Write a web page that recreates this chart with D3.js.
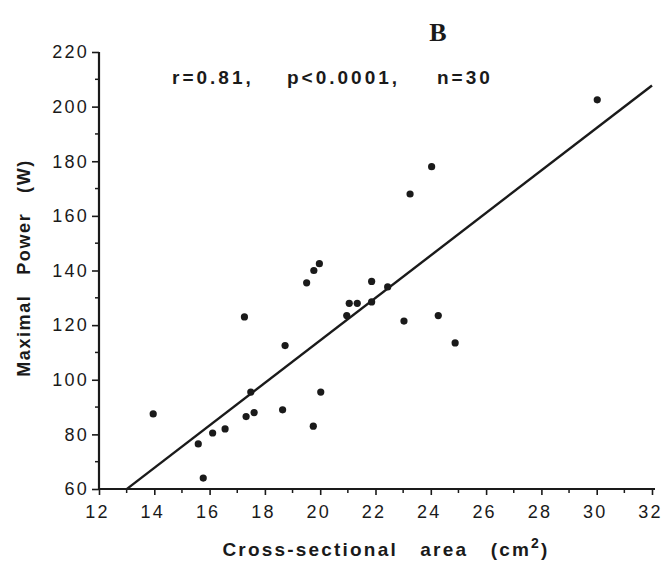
<!DOCTYPE html>
<html>
<head>
<meta charset="utf-8">
<script src="https://cdn.jsdelivr.net/npm/d3@7"></script>
<style>
  html, body { margin: 0; padding: 0; background: #fff; }
  svg { display: block; }
  text { font-family: "Liberation Sans", Arial, sans-serif; fill: #1a1a1a; }
</style>
</head>
<body>
<svg id="chart" width="662" height="574"></svg>
<script>
// Cross-sectional area (cm²) of each subject
const area = [13.96, 15.59, 15.77, 16.11, 16.56, 17.32, 17.61, 17.49, 18.64, 17.26,
              18.73, 19.51, 19.77, 19.97, 20.96, 21.05, 21.34, 21.86, 21.86, 22.44,
              20.02, 19.75, 23.03, 24.27, 24.88, 23.25, 24.03, 30.02];
// Maximal power (W) of each subject
const power = [87.5, 76.5, 64, 80.5, 82, 86.5, 88, 95.5, 89, 123,
               112.5, 135.5, 140, 142.5, 123.5, 128, 128, 128.5, 136, 134,
               95.5, 83, 121.5, 123.5, 113.5, 168, 178, 202.5];

// Regression line y = slope * x + intercept, drawn over the fitted range
const fitSlope = 7.78;
const fitIntercept = -41.2;
const fitRange = [13.0, 32.0];

const xTicks = [12, 14, 16, 18, 20, 22, 24, 26, 28, 30, 32];
const yTicks = [60, 80, 100, 120, 140, 160, 180, 200, 220];
const statsParts = ["r=0.81,", "p<0.0001,", "n=30"];

const svg = d3.select("#chart");
const x = d3.scaleLinear().domain([12, 32]).range([99, 652]);
const y = d3.scaleLinear().domain([60, 220]).range([489, 52]);

const ink = "#1a1a1a";

// Panel letter
svg.append("text")
  .attr("x", 438).attr("y", 41)
  .attr("text-anchor", "middle")
  .style("font-family", "'Liberation Serif', 'Times New Roman', serif")
  .style("font-weight", "bold")
  .style("font-size", "26px")
  .text("B");

// Statistics annotation, three spaced fields
svg.append("g").selectAll("text")
  .data(statsParts)
  .join("text")
  .attr("x", (d, i) => [172, 287, 437][i])
  .attr("y", 84)
  .style("font-size", "19px")
  .style("font-weight", "bold")
  .style("letter-spacing", "3px")
  .text(d => d);

// Y axis with minor ticks every 10 W
const yMinor = d3.range(70, 220, 20);
const yAxisG = svg.append("g").attr("transform", `translate(${x(12)},0)`);
yAxisG.call(d3.axisLeft(y).tickValues(yTicks).tickSize(7).tickPadding(3).tickFormat(d3.format("d")));
yAxisG.selectAll(".minor").data(yMinor).join("line")
  .attr("class", "minor")
  .attr("x1", -4).attr("x2", 0)
  .attr("y1", d => y(d)).attr("y2", d => y(d))
  .attr("stroke", ink).attr("stroke-width", 1.5);

// X axis with minor ticks every 1 cm²
const xMinor = d3.range(13, 32, 2);
const xAxisG = svg.append("g").attr("transform", `translate(0,${y(60)})`);
xAxisG.call(d3.axisBottom(x).tickValues(xTicks).tickSize(6).tickPadding(10).tickFormat(d3.format("d")));
xAxisG.selectAll(".minor").data(xMinor).join("line")
  .attr("class", "minor")
  .attr("x1", d => x(d)).attr("x2", d => x(d))
  .attr("y1", 0).attr("y2", 4)
  .attr("stroke", ink).attr("stroke-width", 1.5);

[yAxisG, xAxisG].forEach(g => {
  g.select(".domain").attr("stroke", ink).attr("stroke-width", 2.2);
  g.selectAll(".tick line").attr("stroke", ink).attr("stroke-width", 1.6);
  g.selectAll(".tick text")
    .style("font-size", "18px")
    .style("letter-spacing", "2.2px")
    .attr("fill", ink);
});
xAxisG.selectAll(".tick text").attr("dx", -2);
// straight axis ends, no outer tick caps
yAxisG.select(".domain").attr("d", `M0,${y(220)}V${y(60)}`);
xAxisG.select(".domain").attr("d", `M${x(12)},0H${x(32) + 3}`);

// Regression line
svg.append("line")
  .attr("x1", x(fitRange[0])).attr("y1", y(fitSlope * fitRange[0] + fitIntercept))
  .attr("x2", x(fitRange[1])).attr("y2", y(fitSlope * fitRange[1] + fitIntercept))
  .attr("stroke", ink).attr("stroke-width", 2.4);

// Data points
svg.append("g").selectAll("circle")
  .data(area.map((a, i) => [a, power[i]]))
  .join("circle")
  .attr("cx", d => x(d[0]))
  .attr("cy", d => y(d[1]))
  .attr("r", 3.6)
  .attr("fill", ink);

// Axis titles
svg.append("text")
  .attr("transform", "translate(30,268) rotate(-90)")
  .attr("text-anchor", "middle")
  .style("font-size", "18px")
  .style("font-weight", "bold")
  .style("letter-spacing", "1.6px")
  .style("white-space", "pre")
  .attr("xml:space", "preserve")
  .text("Maximal   Power   (W)");

const xTitle = svg.append("text")
  .attr("x", 386).attr("y", 556)
  .attr("text-anchor", "middle")
  .style("font-size", "19px")
  .style("font-weight", "bold")
  .style("letter-spacing", "2.2px")
  .style("white-space", "pre")
  .attr("xml:space", "preserve");
xTitle.append("tspan").text("Cross-sectional   area   (cm");
xTitle.append("tspan").attr("dy", -8).style("font-size", "14px").text("2");
xTitle.append("tspan").attr("dy", 8).text(")");
</script>
</body>
</html>
